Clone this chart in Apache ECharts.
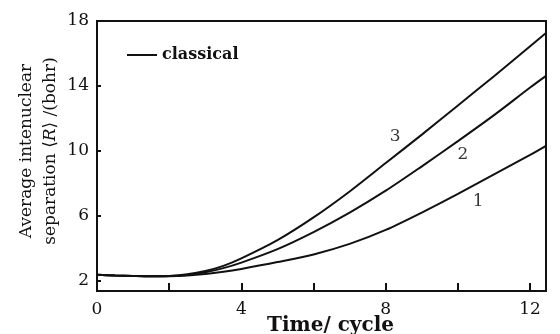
<!DOCTYPE html>
<html>
<head>
<meta charset="utf-8">
<script src="https://cdn.jsdelivr.net/npm/echarts@6/dist/echarts.min.js"></script>
<style>
  html, body { margin: 0; padding: 0; background: #fff; }
  #chart { width: 560px; height: 334px; }
</style>
</head>
<body>
<div id="chart"></div>
<script>
// ---- data ----
const time = [0, 0.5, 1, 1.5, 2, 2.5, 3, 3.5, 4, 5, 6, 7, 8, 9, 10, 11, 12, 12.44];
const curve1 = [2.37, 2.33, 2.3, 2.28, 2.28, 2.32, 2.41, 2.55, 2.73, 3.15, 3.62, 4.27, 5.13, 6.2, 7.35, 8.55, 9.75, 10.31];
const curve2 = [2.37, 2.33, 2.3, 2.28, 2.29, 2.36, 2.52, 2.78, 3.12, 3.95, 5.0, 6.2, 7.55, 9.05, 10.6, 12.2, 13.9, 14.62];
const curve3 = [2.37, 2.33, 2.3, 2.28, 2.3, 2.4, 2.6, 2.92, 3.38, 4.5, 5.9, 7.5, 9.25, 11.0, 12.8, 14.6, 16.45, 17.26];
const curveNames = ['1', '2', '3'];
const curveLabelX = [10.56, 10.14, 8.26];
const curveLabelY = [6.86, 9.75, 10.86];
const yTicks = [2, 6, 10, 14, 18];
const xLabelValues = [0, 4, 8, 12];
const legendName = 'classical';
const xTitle = 'Time/ cycle';
const yTitleLine1 = 'Average intenuclear';
const yTitleLine2a = 'separation \u27E8';
const yTitleR = 'R';
const yTitleLine2b = '\u27E9 /(bohr)';

const ink = '#111';
const serif = '"DejaVu Serif", "Liberation Serif", serif';

function pairs(ys) { return time.map((t, i) => [t, ys[i]]); }

const chart = echarts.init(document.getElementById('chart'), null, { renderer: 'canvas' });
chart.setOption({
  backgroundColor: '#fff',
  animation: false,
  grid: {
    left: 97, right: 14, top: 21, bottom: 43,
    outerBoundsMode: 'none', containLabel: false,
    show: true, borderColor: ink, borderWidth: 2, backgroundColor: 'transparent'
  },
  legend: {
    data: [legendName],
    left: 122, top: 42,
    icon: 'rect', itemWidth: 30, itemHeight: 2, itemGap: 5,
    textStyle: { fontFamily: serif, fontWeight: 'bold', fontSize: 16, color: ink, padding: [0, 0, 0, 0] },
    selectedMode: false
  },
  xAxis: {
    type: 'value', min: 0, max: 12.44, interval: 2,
    axisLine: { show: true, onZero: false, lineStyle: { color: ink, width: 2 } },
    axisTick: { show: true, inside: true, length: 8, lineStyle: { color: ink, width: 2 } },
    splitLine: { show: false },
    axisLabel: {
      fontFamily: serif, fontSize: 17, color: ink, margin: 10,
      showMaxLabel: false,
      formatter: v => (xLabelValues.indexOf(v) >= 0 ? String(v) : '')
    },
    name: xTitle, nameLocation: 'middle', nameGap: 25, nameMoveOverlap: false,
    nameTextStyle: { fontFamily: serif, fontWeight: 'bold', fontSize: 20, color: ink, padding: [0, 0, 0, 18] }
  },
  yAxis: {
    type: 'value', min: 1.37, max: 18,
    axisLine: { show: true, onZero: false, lineStyle: { color: ink, width: 2 } },
    axisTick: { show: true, inside: true, length: 4, customValues: yTicks, lineStyle: { color: ink, width: 2 } },
    splitLine: { show: false },
    axisLabel: { customValues: yTicks, fontFamily: serif, fontSize: 17, color: ink, margin: 8 },
    name: yTitleLine1 + '\n' + yTitleLine2a + '{i|' + yTitleR + '}' + yTitleLine2b,
    nameLocation: 'middle', nameGap: 34, nameRotate: 90, nameMoveOverlap: false,
    nameTextStyle: {
      fontFamily: serif, fontSize: 17, color: ink, lineHeight: 24, padding: [0, 0, 0, 10],
      rich: { i: { fontFamily: serif, fontStyle: 'italic', fontSize: 17, color: ink, lineHeight: 24 } }
    }
  },
  series: [
    { name: legendName, type: 'line', data: pairs(curve1), smooth: 0.3, showSymbol: false, color: ink, lineStyle: { color: ink, width: 2 } },
    { name: legendName, type: 'line', data: pairs(curve2), smooth: 0.3, showSymbol: false, color: ink, lineStyle: { color: ink, width: 2 } },
    { name: legendName, type: 'line', data: pairs(curve3), smooth: 0.3, showSymbol: false, color: ink, lineStyle: { color: ink, width: 2 } },
    {
      name: 'curve labels', type: 'scatter', symbolSize: 0, silent: true,
      data: curveNames.map((n, i) => ({ name: n, value: [curveLabelX[i], curveLabelY[i]] })),
      label: { show: true, position: 'inside', formatter: p => p.name, fontFamily: serif, fontSize: 17, color: '#000' }
    }
  ]
});
</script>
</body>
</html>
